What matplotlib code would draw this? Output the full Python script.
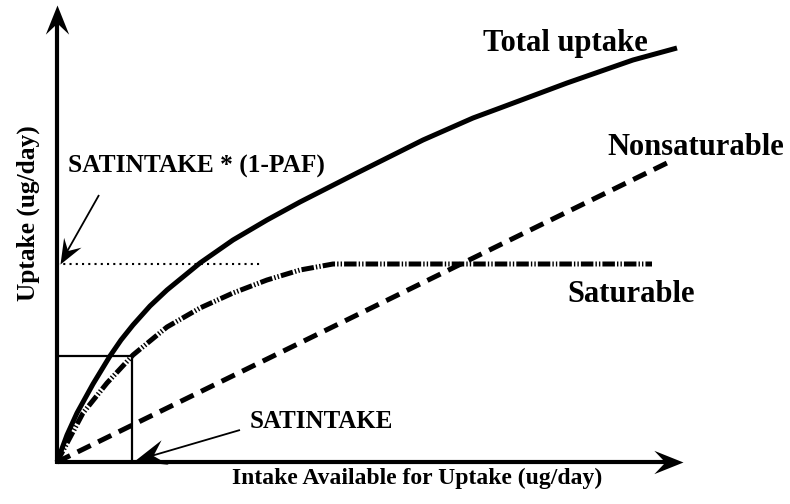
import matplotlib
matplotlib.use("Agg")
import matplotlib.pyplot as plt
import numpy as np
from matplotlib.path import Path
from matplotlib.markers import MarkerStyle
from matplotlib.transforms import Affine2D

plt.rcParams['font.family'] = ['Liberation Serif', 'DejaVu Serif']
plt.rcParams['font.weight'] = 'bold'
plt.rcParams['lines.scale_dashes'] = False

# curves (intake, uptake)
total_x = [0, 1.0, 2.0, 3.6, 5.3, 6.4, 7.6, 9.3, 11.0, 14.3, 17.6, 21.0, 24.3, 30.0, 36.6, 41.6, 44.3, 51.0, 57.6, 62.0]
total_y = [0, 2.7, 4.9, 7.8, 10.6, 12.2, 13.7, 15.6, 17.2, 19.9, 22.2, 24.2, 26.0, 28.9, 32.2, 34.4, 35.4, 37.9, 40.2, 41.4]

sat_x = [0, 2.6, 5.0, 7.6, 11.0, 14.3, 17.6, 21.0, 24.3, 27.6, 59.5]
sat_y = [0, 4.9, 7.9, 10.7, 13.5, 15.4, 16.9, 18.2, 19.2, 19.8, 19.8]

nonsat_x = [0, 61.0]
nonsat_y = [0, 29.9]

satintake = 7.5        # x of the small box
satintake_up = 10.6    # uptake at SATINTAKE
sat_max = 19.8         # SATINTAKE * (1-PAF)
x_end = 62.6
y_end = 45.7

# stealth style arrow head, tip at the origin, pointing along +x
head_path = Path([(0, 0), (-1, 0.4), (-0.62, 0), (-1, -0.4), (0, 0)],
                 [Path.MOVETO, Path.LINETO, Path.LINETO, Path.LINETO, Path.CLOSEPOLY])


def arrow(ax, start, tip, size, lw, back):
    dx, dy = tip[0] - start[0], tip[1] - start[1]
    ang = np.arctan2(dy, dx)
    ex = tip[0] - back * np.cos(ang)
    ey = tip[1] - back * np.sin(ang)
    ax.plot([start[0], ex], [start[1], ey], color='black', lw=lw, solid_capstyle='butt')
    m = MarkerStyle(head_path, transform=Affine2D().rotate(ang))
    ax.plot([tip[0]], [tip[1]], marker=m, markersize=size, color='black', mew=0)


fig = plt.figure(figsize=(7.9, 5.04), dpi=100)
ax = fig.add_axes([0, 0, 1, 1])
ax.set_xlim(-5.7, 73.3)
ax.set_ylim(-4.2, 46.2)
ax.axis('off')

# axes with arrow heads
arrow(ax, (-0.15, 0), (x_end, 0), 42, 3, 1.5)
arrow(ax, (0, -0.15), (0, y_end), 42, 3, 1.5)

# curves
ax.plot(total_x, total_y, color='black', lw=3.6, solid_capstyle='butt', solid_joinstyle='round')
ax.plot(sat_x, sat_y, color='black', lw=3.6, dashes=(9, 1.5, 1.0, 1.5, 1.0, 1.5))
ax.plot(nonsat_x, nonsat_y, color='black', lw=3.6, dashes=(10.5, 6))

# SATINTAKE box and saturation level
ax.plot([0, satintake, satintake], [satintake_up, satintake_up, 0], color='black', lw=1.6)
ax.plot([0, 20.3], [sat_max, sat_max], color='black', lw=1.5, dashes=(1.5, 3.0))

# pointer arrows
arrow(ax, (4.2, 26.7), (0.3, sat_max), 36, 1.3, 1.2)
arrow(ax, (18.3, 3.2), (satintake + 0.2, 0.1), 46, 1.3, 1.5)

ax.text(1.1, 28.9, 'SATINTAKE * (1-PAF)', fontsize=18.3, ha='left', va='baseline')
ax.text(19.3, 3.4, 'SATINTAKE', fontsize=18, ha='left', va='baseline')

# curve labels
ax.text(42.6, 41.1, 'Total uptake', fontsize=22, ha='left', va='baseline')
ax.text(55.0, 30.7, 'Nonsaturable', fontsize=22, ha='left', va='baseline')
ax.text(51.0, 16.0, 'Saturable', fontsize=22, ha='left', va='baseline')

# axis titles
ax.text(36.0, -2.2, 'Intake Available for Uptake (ug/day)', fontsize=17,
        ha='center', va='baseline')
ax.text(-2.9, 24.9, 'Uptake (ug/day)', fontsize=18.3, rotation=90,
        ha='center', va='center')

fig.savefig('out.png', dpi=100)
